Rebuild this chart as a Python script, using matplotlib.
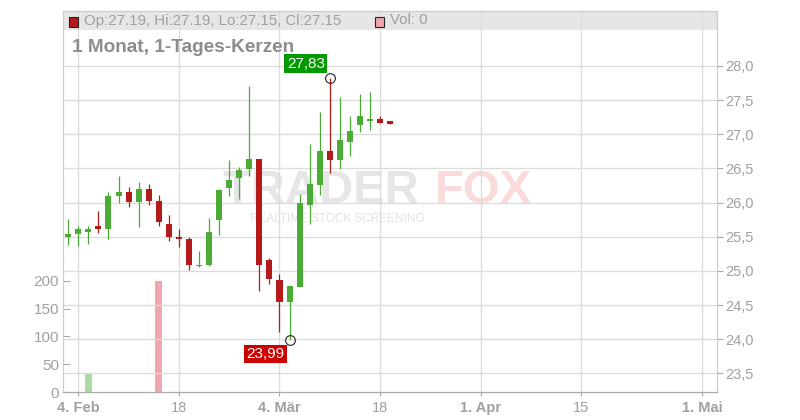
import numpy as np
import pandas as pd
import matplotlib
matplotlib.use("Agg")
import matplotlib.pyplot as plt
from matplotlib.patches import Rectangle

plt.rcParams['font.family'] = ['Liberation Sans', 'DejaVu Sans']

# ---------------------------------------------------------------
# data: daily candles, trading-day axis starting 3 Feb 2026
# ---------------------------------------------------------------
days = pd.bdate_range('2026-02-03', '2026-05-01')

opens = [25.49, 25.54, 25.57, 25.66, 25.62, 26.09, 26.16, 26.01, 26.20, 26.02, 25.69,
         25.50, 25.47, 25.07, 25.08, 25.75, 26.22, 26.36, 26.49, 26.64, 25.16, 24.87,
         24.55, 24.77, 25.97, 26.26, 26.76, 26.62, 26.88, 27.13, 27.20, 27.22, 27.19]
highs = [25.76, 25.66, 25.66, 25.88, 26.16, 26.39, 26.23, 26.30, 26.27, 26.11, 25.82,
         25.61, 25.50, 25.29, 25.78, 26.20, 26.62, 26.52, 27.70, 26.64, 25.19, 24.95,
         24.78, 26.13, 26.86, 27.33, 27.83, 27.54, 27.27, 27.59, 27.62, 27.27, 27.19]
lows = [25.38, 25.37, 25.40, 25.55, 25.47, 26.00, 25.93, 25.65, 25.97, 25.66, 25.44,
        25.35, 25.02, 25.06, 25.07, 25.53, 26.09, 26.06, 26.39, 24.71, 24.81, 24.11,
        23.99, 24.77, 25.69, 26.11, 26.44, 26.49, 26.68, 27.04, 27.07, 27.16, 27.15]
closes = [25.54, 25.62, 25.62, 25.62, 26.10, 26.16, 26.01, 26.20, 26.03, 25.72, 25.49,
          25.46, 25.08, 25.09, 25.57, 26.18, 26.33, 26.48, 26.64, 25.08, 24.88, 24.55,
          24.78, 25.99, 26.27, 26.76, 26.62, 26.92, 27.05, 27.27, 27.23, 27.16, 27.15]
volumes = [0, 0, 35, 0, 0, 0, 0, 0, 0, 200, 0,
           0, 0, 0, 0, 0, 0, 0, 0, 0, 0, 0,
           0, 0, 0, 0, 0, 0, 0, 0, 0, 0, 0]

tick_dates = ['2026-02-04', '2026-02-18', '2026-03-04', '2026-03-18',
              '2026-04-01', '2026-04-15', '2026-05-01']
tick_labels = ['4. Feb', '18', '4. Mär', '18', '1. Apr', '15', '1. Mai']
tick_bold = [True, False, True, False, True, False, True]

price_ticks = [23.5, 24.0, 24.5, 25.0, 25.5, 26.0, 26.5, 27.0, 27.5, 28.0]
vol_ticks = [0, 50, 100, 150, 200]

GREEN = '#4aab35'
RED = '#b51a1a'
GREEN_VOL = '#a9dba2'
RED_VOL = '#f0a6b0'
GRID = '#dcdcdc'
TXT = '#a0a0a0'

W, H = 800, 420


def fx(x):
    return x / W


def fy(y):
    return 1 - y / H


fig = plt.figure(figsize=(8, 4.2), dpi=100)
fig.patch.set_facecolor('white')

left, right, top, bottom = 63.3, 716.7, 11.0, 392.3
ax = fig.add_axes([fx(left), fy(bottom), (right - left) / W, (bottom - top) / H])
ax.set_facecolor('none')
ax2 = ax.twinx()
ax2.set_facecolor('none')

# header strip
fig.add_artist(Rectangle((fx(left), fy(29.5)), (right - left) / W, (29.5 - top) / H,
                         transform=fig.transFigure, facecolor='#e6e6e6',
                         edgecolor='none', zorder=-1))

x = np.arange(len(opens))
up = np.array(closes) >= np.array(opens)

# volume (left axis)
vol_colors = [GREEN_VOL if u else RED_VOL for u in up]
ax.bar(x, volumes, width=0.7, color=vol_colors, zorder=2)
ax.set_ylim(0, 683)
ax.set_yticks(vol_ticks)
ax.set_xlim(-0.49, 64.46)

pos = days.get_indexer(pd.to_datetime(tick_dates))
ax.set_xticks(pos)
ax.set_xticklabels(tick_labels)
for lab, b in zip(ax.get_xticklabels(), tick_bold):
    lab.set_fontweight('bold' if b else 'normal')
ax.grid(axis='x', color=GRID, linewidth=1)
ax.set_axisbelow(True)
ax.tick_params(axis='x', direction='out', length=3, color='#aaaaaa',
               labelcolor=TXT, labelsize=10.5, pad=3)
ax.tick_params(axis='y', direction='in', length=5, color='#aaaaaa',
               labelcolor=TXT, labelsize=11, pad=3)

# candles (right axis)
ax2.set_ylim(23.223, 28.805)
ax2.set_yticks(price_ticks)
ax2.set_yticklabels([f'{p:.1f}'.replace('.', ',') for p in price_ticks])
ax2.grid(axis='y', color=GRID, linewidth=1)
ax2.set_axisbelow(True)
ax2.tick_params(axis='y', direction='out', length=4, color='#aaaaaa',
                labelcolor=TXT, labelsize=10.5, pad=2)

for i in x:
    c = GREEN if up[i] else RED
    ax2.vlines(i, lows[i], highs[i], color=c, linewidth=0.9, zorder=3)
    h = max(abs(closes[i] - opens[i]), 0.02)
    ax2.bar(i, h, bottom=min(opens[i], closes[i]), width=0.6, color=c, zorder=4)

for a in (ax, ax2):
    for s in a.spines.values():
        s.set_color('#cccccc')
    a.spines['bottom'].set_color('#aaaaaa')

# max / min markers
imax = int(np.argmax(highs))
imin = int(np.argmin(lows))
ax2.plot(imax, highs[imax], 'o', ms=7, mfc='none', mec='#222222', mew=0.8, zorder=6)
ax2.plot(imin, lows[imin], 'o', ms=7, mfc='none', mec='#222222', mew=0.8, zorder=6)
ax2.annotate(f'{highs[imax]:.2f}'.replace('.', ','), (imax, highs[imax]),
             xytext=(-24, 14), textcoords='offset pixels', ha='center', va='center',
             color='white', fontsize=11, zorder=7,
             bbox=dict(boxstyle='square,pad=0.15', fc='#009900', ec='none'))
ax2.annotate(f'{lows[imin]:.2f}'.replace('.', ','), (imin, lows[imin]),
             xytext=(-24, -14), textcoords='offset pixels', ha='center', va='center',
             color='white', fontsize=11, zorder=7,
             bbox=dict(boxstyle='square,pad=0.15', fc='#cc0000', ec='none'))

# header texts
fig.add_artist(Rectangle((fx(68.5), fy(26.5)), 9 / W, 9 / H, transform=fig.transFigure,
                         facecolor=RED, edgecolor='#222222', linewidth=0.8))
fig.text(fx(84), fy(20.5), f'Op:{opens[-1]:.2f}, Hi:{highs[-1]:.2f}, '
         f'Lo:{lows[-1]:.2f}, Cl:{closes[-1]:.2f}',
         color=TXT, fontsize=10.8, va='center', ha='left')
fig.add_artist(Rectangle((fx(374.5), fy(26.5)), 9 / W, 9 / H, transform=fig.transFigure,
                         facecolor=RED_VOL, edgecolor='#222222', linewidth=0.8))
fig.text(fx(390), fy(20.5), f'Vol: {volumes[-1]}', color=TXT, fontsize=10.8,
         va='center', ha='left')
fig.text(fx(72), fy(47), '1 Monat, 1-Tages-Kerzen', color='#8c8c8c', fontsize=13.7,
         fontweight='bold', va='center', ha='left')

# watermark
fig.text(fx(419), fy(191), 'TRADER', color='#e6e6e6', fontsize=34, fontweight='bold',
         va='center', ha='right', zorder=-0.5)
fig.text(fx(435), fy(191), 'FOX', color='#fadada', fontsize=34, fontweight='bold',
         va='center', ha='left', zorder=-0.5)
fig.text(fx(250), fy(219), 'REALTIME STOCK SCREENING', color='#e3e3e3', fontsize=8.5,
         va='center', ha='left', zorder=-0.5)

fig.savefig('out.png', dpi=100)
